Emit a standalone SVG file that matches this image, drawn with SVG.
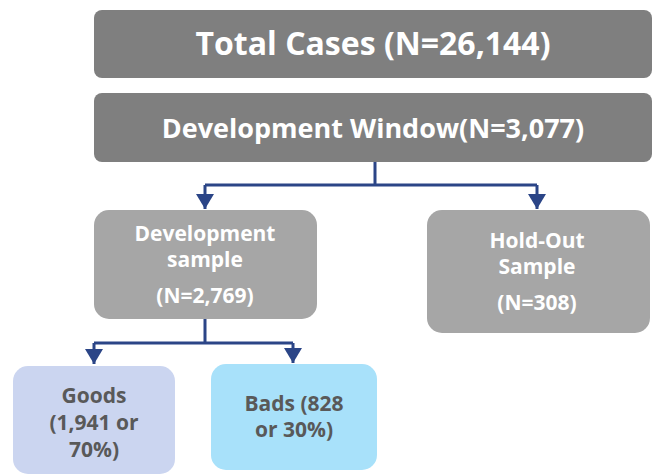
<svg xmlns="http://www.w3.org/2000/svg" width="654" height="476" viewBox="0 0 654 476">
  <defs>
    <!-- arrowhead drawn pointing along +x so orient="auto" turns it along the line -->
    <marker id="arrow" viewBox="0 0 15 18" refX="15" refY="9" markerWidth="15" markerHeight="18" markerUnits="userSpaceOnUse" orient="auto">
      <path d="M0,0 L15,9 L0,18 Z" fill="#2B4587"/>
    </marker>
  </defs>
  <style>
    text { font-family: "Open Sans", "Liberation Sans", sans-serif; font-weight: 700; text-anchor: middle; }
    .dark { fill: #7F7F7F; }
    .mid { fill: #A6A6A6; }
    .goods { fill: #CBD5F0; }
    .bads { fill: #A8E1FA; }
    .w { fill: #FFFFFF; }
    .g { fill: #595959; }
    .conn { fill: none; stroke: #2B4587; stroke-width: 3; }
  </style>

  <g id="total">
    <rect class="dark" x="94" y="10" width="558" height="68" rx="8"/>
    <text class="w" x="373" y="55" font-size="32">Total Cases (N=26,144)</text>
  </g>

  <g id="window">
    <rect class="dark" x="94" y="93" width="558" height="69" rx="8"/>
    <text class="w" x="373" y="138" font-size="27">Development Window(N=3,077)</text>
  </g>

  <g id="dev-sample">
    <rect class="mid" x="94" y="210" width="223" height="109" rx="15"/>
    <text class="w" x="205" y="241" font-size="21">Development</text>
    <text class="w" x="205" y="267" font-size="21">sample</text>
    <text class="w" x="205" y="303" font-size="21">(N=2,769)</text>
  </g>

  <g id="holdout">
    <rect class="mid" x="427" y="210" width="223" height="123" rx="15"/>
    <text class="w" x="537" y="248" font-size="21">Hold-Out</text>
    <text class="w" x="537" y="274" font-size="21">Sample</text>
    <text class="w" x="537" y="310" font-size="21">(N=308)</text>
  </g>

  <g id="goods">
    <rect class="goods" x="13" y="366" width="162" height="108" rx="15"/>
    <text class="g" x="94" y="403" font-size="21">Goods</text>
    <text class="g" x="94" y="430" font-size="21">(1,941 or</text>
    <text class="g" x="94" y="457" font-size="21">70%)</text>
  </g>

  <g id="bads">
    <rect class="bads" x="211" y="364" width="166" height="106" rx="15"/>
    <text class="g" x="294" y="411" font-size="21">Bads (828</text>
    <text class="g" x="294" y="437" font-size="21">or 30%)</text>
  </g>

  <g id="connectors">
    <path class="conn" d="M375,162 V185 M205,185 H537"/>
    <path class="conn" d="M205,185 V209" marker-end="url(#arrow)"/>
    <path class="conn" d="M537,185 V209" marker-end="url(#arrow)"/>
    <path class="conn" d="M205,319 V343 M94,343 H293"/>
    <path class="conn" d="M94,343 V364" marker-end="url(#arrow)"/>
    <path class="conn" d="M293,343 V363" marker-end="url(#arrow)"/>
  </g>
</svg>
